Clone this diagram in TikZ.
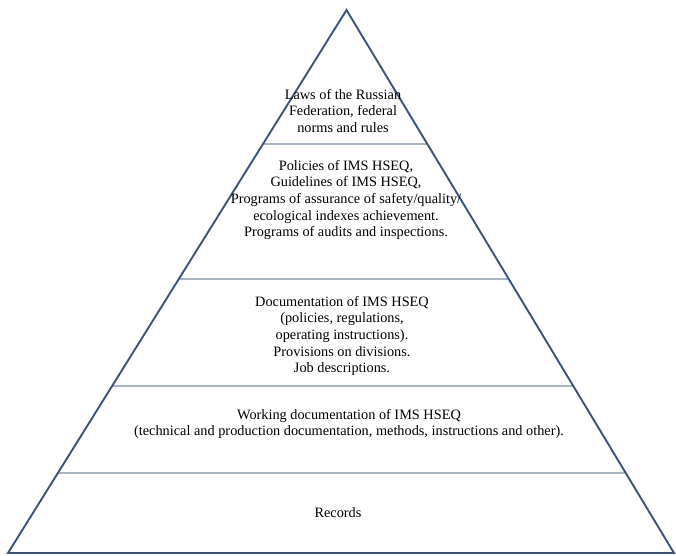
\documentclass[tikz,border=0pt]{standalone}
\usepackage{fontspec}
\setmainfont{Liberation Serif}
\definecolor{edgeblue}{HTML}{3B5475}
\definecolor{tiergray}{HTML}{A9B5C2}
\tikzset{
	layer/.style={align=center, inner sep=0pt, font=\fontsize{14.3}{16.6}\selectfont},
	side/.style={draw=edgeblue, line width=1.9pt, line join=miter},
	tier/.style={draw=tiergray, line width=1.2pt}
}
\begin{document}
\begin{tikzpicture}[x=1pt,y=-1pt]
				\useasboundingbox (0,0) rectangle (676,555);
				\coordinate (top) at (346.5,10);
				\coordinate (bl) at (8,553);
				\coordinate (br) at (674,553);
				
				% tiers
				\foreach \h/\n in {144/a,279/b,386/c,473/d}{
					\path (bl) -- (top) coordinate[pos={(553-\h)/543}] (l\n);
					\path (br) -- (top) coordinate[pos={(553-\h)/543}] (r\n);
					\draw[tier] (l\n) -- (r\n);
				}
				
				\draw[side] (bl) -- (top) -- (br) -- cycle;
				
				\node[layer] (laws) at (343,111) {Laws of the Russian\\Federation, federal\\norms and rules};
				\node[layer] (policies) at (346,200) {Policies of IMS HSEQ,\\Guidelines of IMS HSEQ,\\Programs of assurance of safety/quality/\\ecological indexes achievement.\\Programs of audits and inspections.};
				\node[layer] (docs) at (342,336) {Documentation of IMS HSEQ\\(policies, regulations,\\operating instructions).\\Provisions on divisions.\\Job descriptions.};
				\node[layer] (working) at (349,424) {Working documentation of IMS HSEQ\\(technical and production documentation, methods, instructions and other).};
				\node[layer] (records) at (338,513) {Records};
				
			\end{tikzpicture}
\end{document}
